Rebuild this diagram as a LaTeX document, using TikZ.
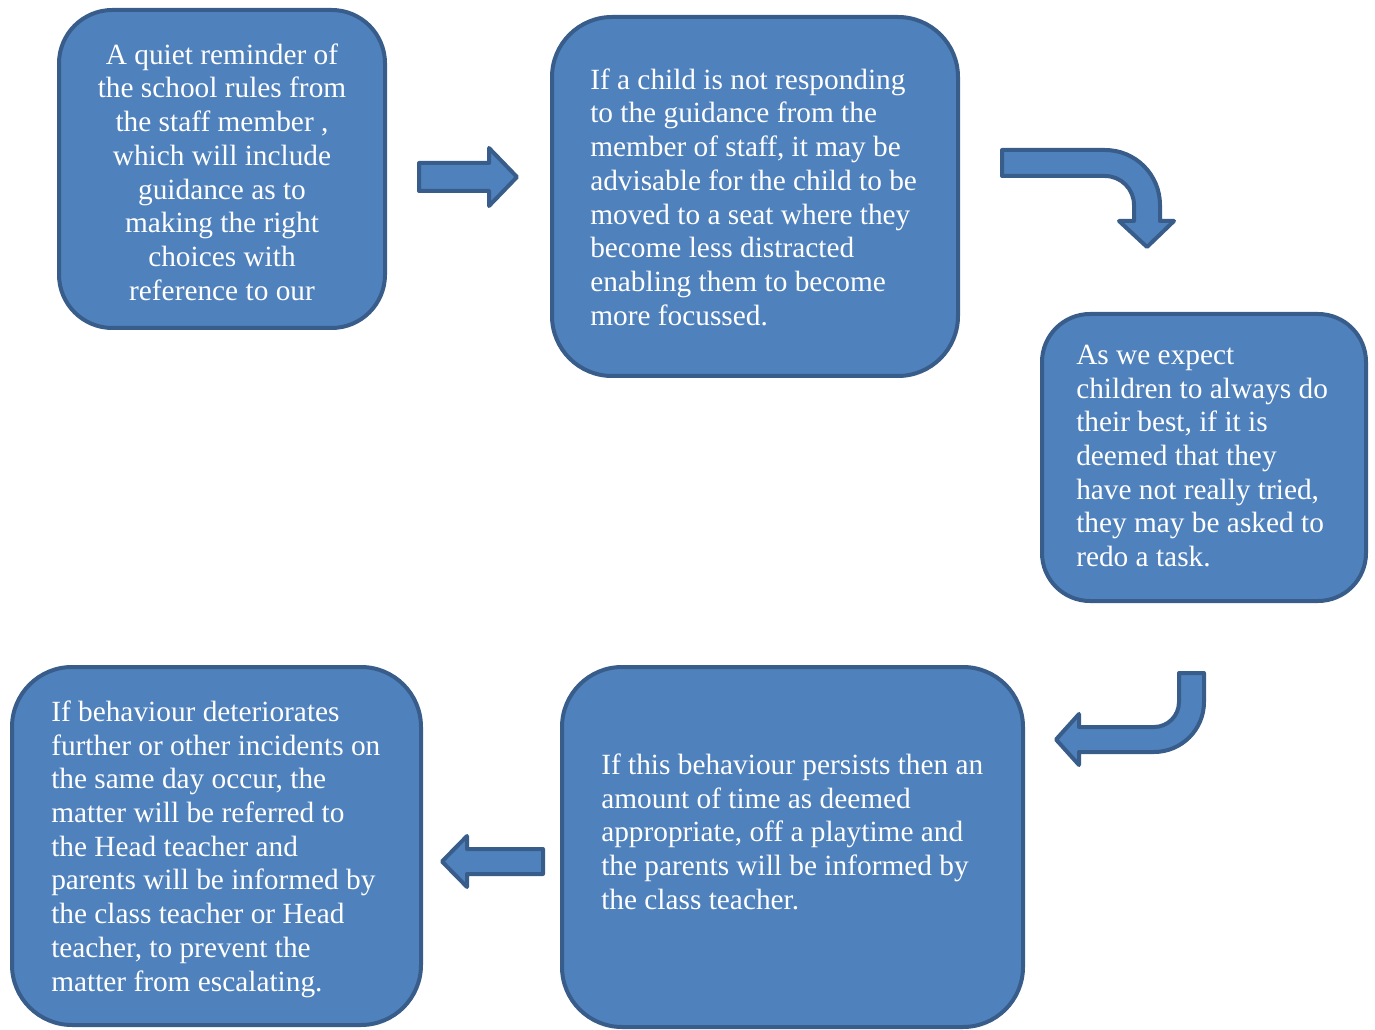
\documentclass[tikz,border=0pt]{standalone}
\usepackage{fontspec}
\setmainfont{Liberation Serif}
\usetikzlibrary{fit}
\definecolor{boxfill}{HTML}{4F81BD}
\definecolor{boxline}{HTML}{385D8A}
\tikzset{
  stepbox/.style={draw=boxline, fill=boxfill, line width=3pt, inner sep=0pt, rectangle},
  txt/.style={text=white, inner sep=0pt, font=\fontsize{22}{25.3}\selectfont},
  blockarrow/.style={draw=boxline, fill=boxfill, line width=3pt, line join=round}
}
\begin{document}
\begin{tikzpicture}[x=0.75pt,y=-0.75pt]
\useasboundingbox (0,0) rectangle (1375,1030);
% boxes
\node[stepbox, rounded corners=40pt, fit={(59,10) (385,328)}] (b1) {};
\node[stepbox, rounded corners=45pt, fit={(552,17) (958,376)}] (b2) {};
\node[stepbox, rounded corners=36pt, fit={(1042,314) (1366,601)}] (b3) {};
\node[stepbox, rounded corners=45pt, fit={(562,667) (1023,1027)}] (b4) {};
\node[stepbox, rounded corners=45pt, fit={(12,667) (421,1025)}] (b5) {};
% texts
\node[txt, anchor=north, align=center] (t1) at (222,40) {\rule{0pt}{18pt}A quiet reminder of\\the school rules from\\the staff member ,\\which will include\\guidance as to\\making the right\\choices with\\reference to our};
\node[txt, anchor=north west, align=left] (t2) at (590,65) {\rule{0pt}{18pt}If a child is not responding\\to the guidance from the\\member of staff, it may be\\advisable for the child to be\\moved to a seat where they\\become less distracted\\enabling them to become\\more focussed.};
\node[txt, anchor=north west, align=left] (t3) at (1076,340) {\rule{0pt}{18pt}As we expect\\children to always do\\their best, if it is\\deemed that they\\have not really tried,\\they may be asked to\\redo a task.};
\node[txt, anchor=north west, align=left] (t4) at (601,750) {\rule{0pt}{18pt}If this behaviour persists then an\\amount of time as deemed\\appropriate, off a playtime and\\the parents will be informed by\\the class teacher.};
\node[txt, anchor=north west, align=left] (t5) at (51,697) {\rule{0pt}{18pt}If behaviour deteriorates\\further or other incidents on\\the same day occur, the\\matter will be referred to\\the Head teacher and\\parents will be informed by\\the class teacher or Head\\teacher, to prevent the\\matter from escalating.};
% arrows
\draw[blockarrow] (419,163) -- (489,163) -- (489,148) -- (517,177) -- (489,206) -- (489,191) -- (419,191) -- cycle;
\draw[blockarrow] (1002,150) -- (1105,150) .. controls (1135.4,150) and (1160,174.6) .. (1160,205) -- (1160,221) -- (1174,221) -- (1147,247) -- (1119,221) -- (1134,221) -- (1134,205) .. controls (1134,189) and (1121,176) .. (1105,176) -- (1002,176) -- cycle;
\draw[blockarrow] (1179,673) -- (1204,673) -- (1204,702) .. controls (1204,729.6) and (1181.6,752) .. (1154,752) -- (1079,752) -- (1079,765) -- (1056,739.5) -- (1079,714) -- (1079,727) -- (1154,727) .. controls (1167.8,727) and (1179,715.8) .. (1179,702) -- cycle;
\draw[blockarrow] (543,849) -- (467,849) -- (467,836) -- (442,861.5) -- (467,887) -- (467,874) -- (543,874) -- cycle;
\end{tikzpicture}
\end{document}
